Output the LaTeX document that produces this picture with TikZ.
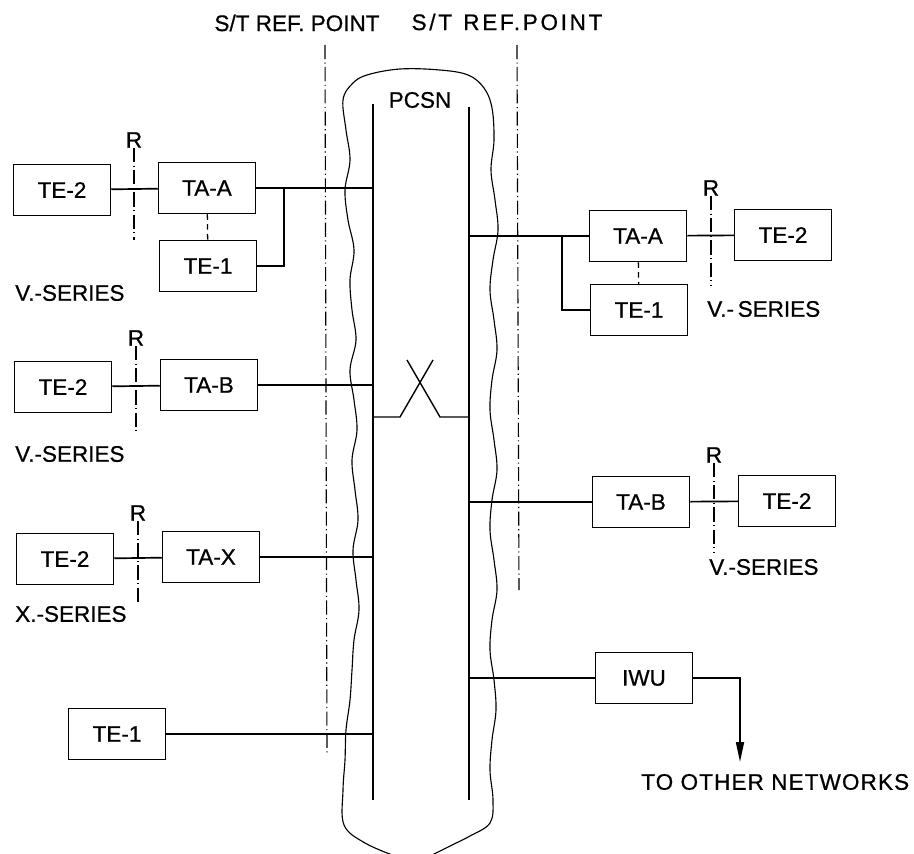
\documentclass[tikz,border=0pt]{standalone}
\usepackage{fontspec}
\setmainfont{Liberation Sans}
\newfontfamily\lblfont[FakeBold=0.7]{Liberation Sans}
\usetikzlibrary{arrows.meta}
\newcommand\lbl{\fontsize{16}{18}\selectfont\lblfont}

\begin{document}
\begin{tikzpicture}[
  x=0.025cm, y=-0.025cm,
  box/.style={draw, line width=1.2pt, minimum width=2.42cm, minimum height=1.27cm, inner sep=2pt, font=\lbl},
  txt/.style={font=\lbl, inner sep=0pt},
  wire/.style={line width=1.2pt},
  bus/.style={line width=1pt},
  refline/.style={line width=0.8pt, dash pattern=on 10pt off 2.5pt on 0.8pt off 2.5pt},
  link/.style={line width=0.9pt, dash pattern=on 4pt off 3pt},
  arr/.style={-{Triangle[length=5mm,width=2mm]}, line width=1.2pt}]
  \useasboundingbox (0,0) rectangle (914,854);
  % network cloud
  \draw[line width=0.8pt] plot[smooth, tension=0.6] coordinates {
    (395,856) (365,843) (344,825) (343,790) (345,760) (346,730) (350,700)
    (352,670) (354,640) (359,610) (356,580) (353,550) (358,520) (355,490)
    (352,460) (357,430) (354,400) (350,370) (356,340) (352,310) (350,280)
    (354,250) (348,220) (345,190) (350,160) (346,130) (343,100) (352,84)
    (367,75) (400,69) (440,70) (468,75) (484,88) (492,108) (494,140)
    (491,170) (495,200) (498,230) (493,260) (490,290) (494,320) (497,350)
    (492,380) (490,410) (494,440) (497,470) (492,500) (490,530) (494,560)
    (497,590) (492,620) (490,650) (494,680) (496,710) (492,740) (490,770)
    (493,800) (490,823) (470,836) (450,846) (430,856)};
  \node[txt] (pcsn) at (420,100) {PCSN};
  % busbars
  \coordinate (busLt) at (373,104);
  \coordinate (busLb) at (373,800);
  \coordinate (busRt) at (469,107);
  \coordinate (busRb) at (469,800);
  \draw[bus] (busLt) -- (busLb);
  \draw[bus] (busRt) -- (busRb);
  % switching cross
  \draw[bus] (busLt |- 0,417) -- (400,417) -- (433,360);
  \draw[bus] (407,360) -- (440,417) -- (busRt |- 0,417);
  % reference points
  \node[txt] (stL) at (297,23) {S/T REF. POINT};
  \node[txt] (stR) at (507,22) {\addfontfeature{LetterSpace=12}S/T\enspace REF.POINT};
  \draw[refline] (325,45) -- (327,755);
  \draw[refline] (517,45) -- (519,590);

  % left side
  \node[box] (te2a) at (62,190) {TE-2};
  \node[box] (taAl) at (207,188) {TA-A};
  \node[box] (te1a) at (208,266) {TE-1};
  \node[box] (te2b) at (63,387) {TE-2};
  \node[box] (taBl) at (209,385) {TA-B};
  \node[box] (te2c) at (65,559) {TE-2};
  \node[box] (taX) at (211,557) {TA-X};
  \node[box] (te1d) at (117,734) {TE-1};
  \node[txt, anchor=west] (vserA) at (15,293) {V.-SERIES};
  \node[txt, anchor=west] (vserB) at (15,454) {V.-SERIES};
  \node[txt, anchor=west] (xser) at (15,614) {X.-SERIES};
  \node[txt] (rA) at (134,140) {R};
  \node[txt] (rB) at (136,338) {R};
  \node[txt] (rC) at (138,513) {R};
  \draw[refline] (rA.south) -- (134,240);
  \draw[refline] (rB.south) -- (136,433);
  \draw[refline] (rC.south) -- (138,605);
  \draw[wire] (te2a) -- (taAl);
  \draw[wire] (te2b) -- (taBl);
  \draw[wire] (te2c) -- (taX);
  \draw[link] (taAl) -- (te1a);
  \coordinate (brL) at (284,188);
  \draw[wire] (taAl.east) -- (taAl.east -| busLt);
  \draw[wire] (brL) |- (te1a.east);
  \draw[wire] (taBl.east) -- (taBl.east -| busLt);
  \draw[wire] (taX.east) -- (taX.east -| busLt);
  \draw[wire] (te1d.east) -- (te1d.east -| busLt);

  % right side
  \node[box] (taAr) at (638,236) {TA-A};
  \node[box] (te2r) at (783,235) {TE-2};
  \node[box] (te1r) at (639,310) {TE-1};
  \node[box] (taBr) at (641,502) {TA-B};
  \node[box] (te2s) at (787,501) {TE-2};
  \node[box] (iwu) at (644,678) {IWU};
  \node[txt, anchor=west] (vserR) at (707,309) {V.-\,SERIES};
  \node[txt, anchor=west] (vserS) at (709,567) {V.-SERIES};
  \node[txt] (rR) at (711,188) {R};
  \node[txt] (rS) at (714,455) {R};
  \draw[refline] (rR.south) -- (711,285);
  \draw[refline] (rS.south) -- (714,552);
  \draw[wire] (taAr) -- (te2r);
  \draw[wire] (taBr) -- (te2s);
  \draw[link] (taAr) -- (te1r);
  \coordinate (brR) at (562,236);
  \draw[wire] (taAr.west) -- (taAr.west -| busRt);
  \draw[wire] (brR) |- (te1r.west);
  \draw[wire] (taBr.west) -- (taBr.west -| busRt);
  \draw[wire] (iwu.west) -- (iwu.west -| busRt);
  \coordinate (other) at (740,762);
  \draw[arr] (iwu.east) -| (other);
  \node[txt, anchor=west] (otherlbl) at (641,782) {\addfontfeature{LetterSpace=5}TO OTHER NETWORKS};
\end{tikzpicture}
\end{document}
